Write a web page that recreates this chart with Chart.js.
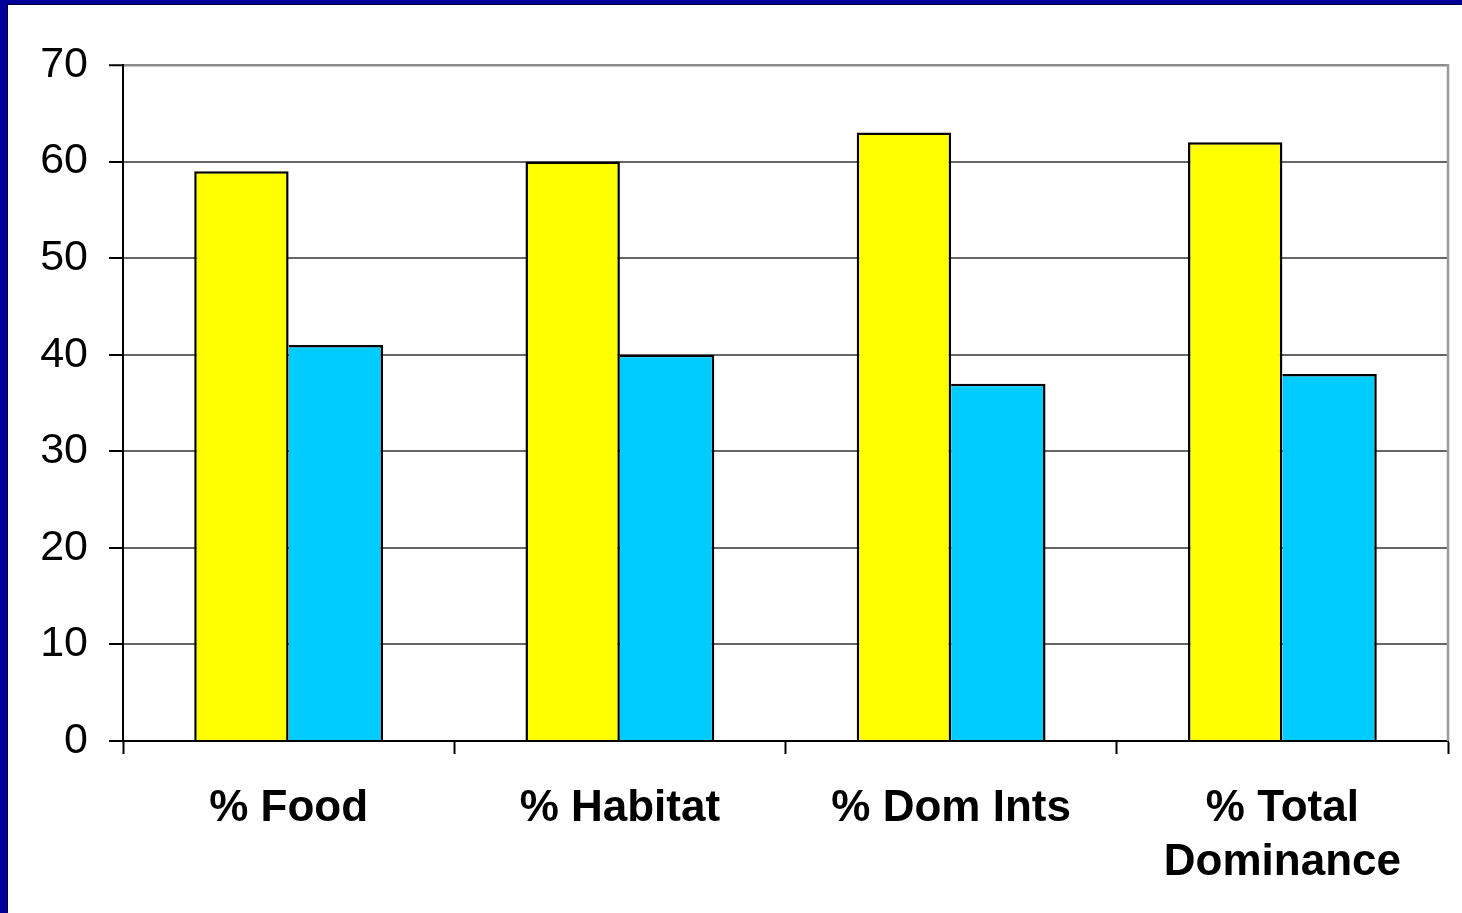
<!DOCTYPE html>
<html>
<head>
<meta charset="utf-8">
<script src="https://cdn.jsdelivr.net/npm/chart.js@4.4.1/dist/chart.umd.min.js"></script>
<style>
  html, body { margin: 0; padding: 0; }
  body { width: 1462px; height: 913px; background: #000099; overflow: hidden; position: relative; }
  #frame { position: absolute; left: 8px; top: 5px; width: 1454px; height: 908px; background: #ffffff;
           box-shadow: -1px -1px 0 #000033; }
  canvas { display: block; }
</style>
</head>
<body>
<div id="frame"><canvas id="chart" width="1454" height="908"></canvas></div>
<script>
// Category labels along the x axis
const categories = ['% Food', '% Habitat', '% Dom Ints', ['% Total', 'Dominance']];
// Two bar series per category
const yellowValues = [59, 60, 63, 62];
const cyanValues = [41, 40, 37, 38];
// Value axis range
const yMin = 0;
const yMax = 70;
const yStep = 10;

// Grey frame line along the right edge of the plot area
const plotFrame = {
  id: 'plotFrame',
  afterDatasetsDraw(chart) {
    const { ctx, chartArea } = chart;
    ctx.save();
    ctx.strokeStyle = '#9a9a9a';
    ctx.lineWidth = 2.5;
    ctx.beginPath();
    ctx.moveTo(chartArea.right, chartArea.top - 1);
    ctx.lineTo(chartArea.right, chartArea.bottom);
    ctx.stroke();
    ctx.restore();
  }
};

new Chart(document.getElementById('chart'), {
  type: 'bar',
  data: {
    labels: categories,
    datasets: [
      {
        data: yellowValues,
        backgroundColor: '#ffff00',
        borderColor: '#000000',
        borderWidth: { top: 2.5, left: 2.5, right: 2.5, bottom: 0 },
        borderSkipped: false
      },
      {
        data: cyanValues,
        backgroundColor: '#00ccff',
        borderColor: '#000000',
        borderWidth: { top: 2.5, left: 0, right: 2.5, bottom: 0 },
        borderSkipped: false
      }
    ]
  },
  options: {
    responsive: false,
    animation: false,
    events: [],
    layout: { padding: { top: 60, right: 14, bottom: 0, left: 0 } },
    plugins: { legend: { display: false }, tooltip: { enabled: false } },
    datasets: { bar: { categoryPercentage: 0.57, barPercentage: 1.0 } },
    scales: {
      x: {
        afterFit(scale) { scale.height = 172; },
        grid: {
          offset: true,
          drawOnChartArea: false,
          drawTicks: true,
          tickLength: 13,
          tickColor: '#000000',
          tickWidth: 2
        },
        border: { color: '#000000', width: 2 },
        ticks: {
          color: '#000000',
          padding: 28,
          maxRotation: 0,
          autoSkip: false,
          font: { family: '"Liberation Sans", Arial, sans-serif', size: 44, weight: 'bold', lineHeight: 1.22 }
        }
      },
      y: {
        min: yMin,
        max: yMax,
        afterFit(scale) { scale.width = 115; },
        grid: {
          color: (c) => (c.tick && c.tick.value === yMax ? '#8c8c8c' : '#666666'),
          lineWidth: (c) => (c.tick && c.tick.value === yMax ? 2.5 : 2),
          drawTicks: true,
          tickLength: 14,
          tickColor: '#000000',
          tickWidth: 2
        },
        border: { color: '#000000', width: 2 },
        ticks: {
          stepSize: yStep,
          color: '#000000',
          padding: 21,
          font: { family: '"Liberation Sans", Arial, sans-serif', size: 43 }
        }
      }
    }
  },
  plugins: [plotFrame]
});
</script>
</body>
</html>
